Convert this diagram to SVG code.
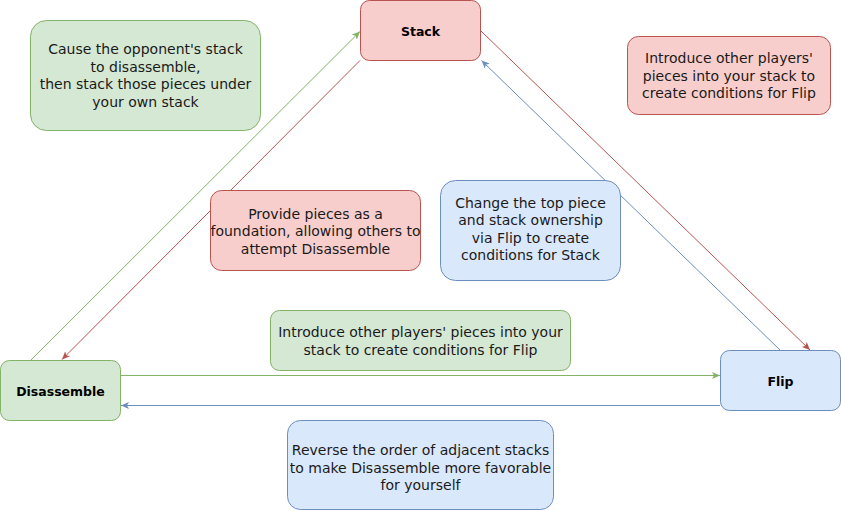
<svg xmlns="http://www.w3.org/2000/svg" width="841" height="511" viewBox="0 0 841 511">
<defs>
<style>
.g{fill:#d5e8d4;stroke:#82b366;stroke-width:1}
.r{fill:#f8cecc;stroke:#b85450;stroke-width:1}
.b{fill:#dae8fc;stroke:#6c8ebf;stroke-width:1}
.t{font-family:"DejaVu Sans",sans-serif;font-size:14px;fill:#1a1a1a;text-anchor:middle}
.h{font-family:"DejaVu Sans",sans-serif;font-size:12.5px;font-weight:bold;fill:#000;text-anchor:middle}
.cg{stroke:#82b366;fill:none;stroke-width:1}
.cr{stroke:#b85450;fill:none;stroke-width:1}
.cb{stroke:#6c8ebf;fill:none;stroke-width:1}
</style>
<marker id="ag" markerWidth="9" markerHeight="8" refX="8" refY="3.5" orient="auto" markerUnits="userSpaceOnUse"><path d="M0,0 L8,3.5 L0,7 L2,3.5 Z" fill="#82b366"/></marker>
<marker id="ar" markerWidth="9" markerHeight="8" refX="8" refY="3.5" orient="auto" markerUnits="userSpaceOnUse"><path d="M0,0 L8,3.5 L0,7 L2,3.5 Z" fill="#b85450"/></marker>
<marker id="ab" markerWidth="9" markerHeight="8" refX="8" refY="3.5" orient="auto" markerUnits="userSpaceOnUse"><path d="M0,0 L8,3.5 L0,7 L2,3.5 Z" fill="#6c8ebf"/></marker>
</defs>
<rect width="841" height="511" fill="#ffffff"/>
<g id="connectors">
<path class="cg" d="M31,360 L360,31.5" marker-end="url(#ag)"/>
<path class="cr" d="M360,60.5 L62,359.5" marker-end="url(#ar)"/>
<path class="cr" d="M481,31 L810,350" marker-end="url(#ar)"/>
<path class="cb" d="M780,350 L481.5,60.5" marker-end="url(#ab)"/>
<path class="cg" d="M121,375.5 L720,375.5" marker-end="url(#ag)"/>
<path class="cb" d="M720,405.5 L121,405.5" marker-end="url(#ab)"/>
</g>
<g id="stack"><rect class="r" x="360.5" y="0.5" width="120" height="60" rx="9"/><text class="h" x="420.5" y="35.5">Stack</text></g>
<g id="disassemble"><rect class="g" x="0.5" y="360.5" width="120" height="60" rx="9"/><text class="h" x="60.5" y="395.5">Disassemble</text></g>
<g id="flip"><rect class="b" x="720.5" y="350.5" width="120" height="60" rx="9"/><text class="h" x="780.5" y="385.5">Flip</text></g>
<g id="note-cause"><rect class="g" x="30.5" y="20.5" width="230" height="110" rx="16"/>
<text class="t" x="145.5"><tspan x="145.5" y="54">Cause the opponent's stack</tspan><tspan x="145.5" y="71.5">to disassemble,</tspan><tspan x="145.5" y="89">then stack those pieces under</tspan><tspan x="145.5" y="106.5">your own stack</tspan></text></g>
<g id="note-introduce-red"><rect class="r" x="627.5" y="36.5" width="203" height="78" rx="11"/>
<text class="t" x="729"><tspan x="729" y="63">Introduce other players'</tspan><tspan x="729" y="80.5">pieces into your stack to</tspan><tspan x="729" y="98">create conditions for Flip</tspan></text></g>
<g id="note-provide"><rect class="r" x="210.5" y="190.5" width="210" height="80" rx="11"/>
<text class="t" x="315.5"><tspan x="315.5" y="218.5">Provide pieces as a</tspan><tspan x="315.5" y="236">foundation, allowing others to</tspan><tspan x="315.5" y="253.5">attempt Disassemble</tspan></text></g>
<g id="note-change"><rect class="b" x="440.5" y="180.5" width="180" height="100" rx="15"/>
<text class="t" x="530.5"><tspan x="530.5" y="207.5">Change the top piece</tspan><tspan x="530.5" y="225">and stack ownership</tspan><tspan x="530.5" y="242.5">via Flip to create</tspan><tspan x="530.5" y="260">conditions for Stack</tspan></text></g>
<g id="note-introduce-green"><rect class="g" x="270.5" y="310.5" width="300" height="60" rx="9"/>
<text class="t" x="420.5"><tspan x="420.5" y="336.5">Introduce other players' pieces into your</tspan><tspan x="420.5" y="354.5">stack to create conditions for Flip</tspan></text></g>
<g id="note-reverse"><rect class="b" x="287.5" y="420.5" width="266" height="89" rx="13"/>
<text class="t" x="420.5"><tspan x="420.5" y="455">Reverse the order of adjacent stacks</tspan><tspan x="420.5" y="472.5">to make Disassemble more favorable</tspan><tspan x="420.5" y="490">for yourself</tspan></text></g>
</svg>
